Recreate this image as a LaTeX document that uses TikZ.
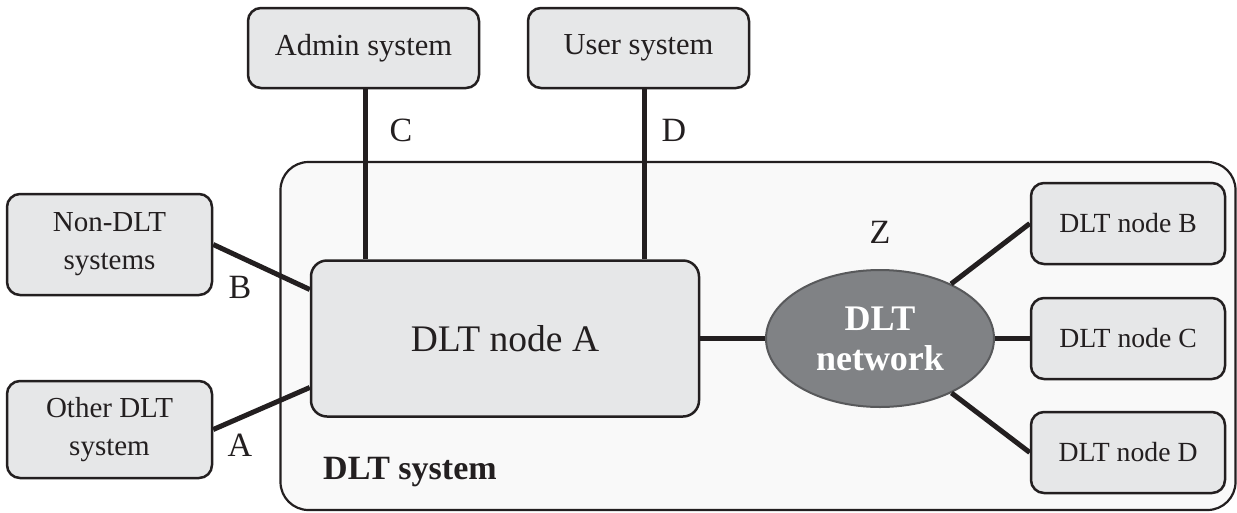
\documentclass[tikz,border=0pt]{standalone}
\usepackage{fontspec}
\setmainfont{Liberation Serif}
\usetikzlibrary{shapes.geometric,calc}
\definecolor{boxfill}{HTML}{E6E7E8}
\definecolor{sysfill}{HTML}{F9F9F9}
\definecolor{netfill}{HTML}{808285}
\definecolor{netdraw}{HTML}{58595B}
\definecolor{ink}{HTML}{231F20}
\tikzset{
  box/.style={draw=ink, fill=boxfill, line width=2.5pt, rounded corners=13pt, inner sep=0pt, align=center, text=ink},
  conn/.style={draw=ink, line width=5pt},
  lbl/.style={text=ink, inner sep=0pt, font=\fontsize{34}{40}\selectfont},
}
\begin{document}
\begin{tikzpicture}[x=1pt,y=-1pt]
\useasboundingbox (0,0) rectangle (1237,512);
% DLT system container
\node[draw=ink, fill=sysfill, line width=2.2pt, rounded corners=28pt, minimum width=955pt, minimum height=348pt, inner sep=0pt] (sys) at (758,336) {};
\node[text=ink, inner sep=0pt, font=\fontsize{34}{40}\selectfont\bfseries, anchor=west] (syslbl) at (323,472) {DLT system};
% boxes
\node[box, minimum width=231pt, minimum height=80pt, font=\fontsize{30.5}{36}\selectfont] (admin) at (363.5,48) {Admin system};
\node[box, minimum width=221pt, minimum height=80pt, font=\fontsize{30.5}{36}\selectfont] (user) at (638.5,48) {User system};
\node[box, minimum width=205pt, minimum height=101pt, font=\fontsize{29}{38}\selectfont] (nondlt) at (109.5,244.5) {Non-DLT\\systems};
\node[box, minimum width=205pt, minimum height=97pt, font=\fontsize{29}{38}\selectfont] (other) at (109.5,429.5) {Other DLT\\system};
\node[box, minimum width=388pt, minimum height=156pt, rounded corners=16pt, font=\fontsize{37.5}{44}\selectfont] (nodeA) at (505,338.5) {DLT node A};
\node[ellipse, draw=netdraw, fill=netfill, line width=2pt, minimum width=228pt, minimum height=137pt, inner sep=0pt, align=center, text=white, font=\fontsize{36}{40}\selectfont\bfseries] (net) at (880,338.5) {DLT\\network};
\node[box, minimum width=194pt, minimum height=81pt, font=\fontsize{27.7}{34}\selectfont] (nodeB) at (1128,223.5) {DLT node B};
\node[box, minimum width=194pt, minimum height=81pt, font=\fontsize{27.7}{34}\selectfont] (nodeC) at (1128,338.5) {DLT node C};
\node[box, minimum width=194pt, minimum height=81pt, font=\fontsize{27.7}{34}\selectfont] (nodeD) at (1128,452.5) {DLT node D};
% connectors
\draw[conn] (nondlt.east) -- ([yshift=49pt]nodeA.west);
\draw[conn] (other.east) -- ([yshift=-49pt]nodeA.west);
\draw[conn] ([xshift=1.5pt]admin.south) -- ([xshift=1.5pt]admin.south |- nodeA.north);
\draw[conn] ([xshift=5.5pt]user.south) -- ([xshift=5.5pt]user.south |- nodeA.north);
\draw[conn] (nodeA.east) -- (net.west);
\draw[conn] (net.east) -- (nodeC.west);
\draw[conn] (net) -- (nodeB.west);
\draw[conn] (net) -- (nodeD.west);
% labels
\node[lbl] (labB) at (240,287) {B};
\node[lbl] (labA) at (240,445) {A};
\node[lbl] (labC) at (401,130) {C};
\node[lbl] (labD) at (674,130) {D};
\node[lbl] (labZ) at (880,232) {Z};
\end{tikzpicture}
\end{document}
